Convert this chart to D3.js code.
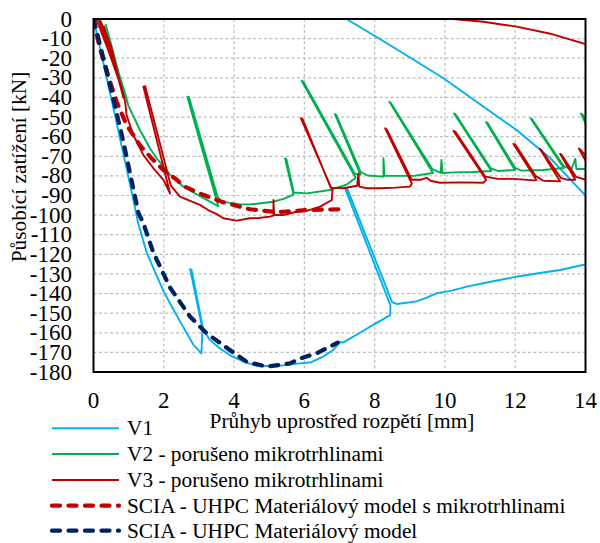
<!DOCTYPE html>
<html>
<head>
<meta charset="utf-8">
<script src="https://cdn.jsdelivr.net/npm/d3@7/dist/d3.min.js"></script>
<style>
  body { margin: 0; background: #fff; }
</style>
</head>
<body>
<div id="chart"></div>
<script>
// hodnoty: [průhyb mm, síla kN]
const xTicks = [0, 2, 4, 6, 8, 10, 12, 14];
const yTicks = [0, -10, -20, -30, -40, -50, -60, -70, -80, -90, -100, -110, -120, -130, -140, -150, -160, -170, -180];

const v1Data = [
  [0,0],[0.3,-24],[0.61,-49],[0.92,-74.5],[1.13,-92],[1.27,-104],[1.51,-119],[1.75,-129],[2.0,-139],
  [2.27,-148],[2.55,-157],[2.84,-166],[3.07,-170.5],[3.1,-158],[2.75,-127.5],[2.79,-128],[3.12,-158],
  [3.3,-163.5],[3.6,-168],[3.89,-171.5],[4.3,-175],[4.64,-176.8],[5.2,-177],[5.88,-175.6],[6.2,-175],
  [6.55,-172],[6.82,-168.8],[7.02,-164.7],[7.1,-165],[7.58,-160],[7.96,-156],[8.44,-151],
  [8.45,-146],[7.15,-86],[7.22,-86.5],[8.5,-144.5],[8.63,-145.3],[9.2,-144],[9.5,-142],[9.77,-139.8],
  [10.2,-138.5],[10.62,-136.5],[11.3,-134],[12.04,-131.4],[12.7,-129.5],[13.28,-128],[14.03,-125],[15.4,-121],
  [15.2,-114],[14.5,-100],[14.03,-90.6],[13,-71],[12.04,-56.6],[11,-43.5],[9.96,-30.2],[8.5,-14],[7.2,0],[6.9,3]
];

const v2Data = [
  [0.15,0],[0.5,-19],[0.9,-40],[0.55,-16],[0.35,-3],[0.55,-18],[0.9,-38],[0.99,-44],[1.32,-56.6],
  [1.61,-66],[1.8,-71],[2.18,-79.5],[2.56,-85.5],[2.94,-89.5],[3.3,-93],[3.55,-95.5],
  [2.67,-39.6],[2.72,-40],[3.52,-90],[3.62,-93],[3.79,-93.5],[4.17,-94.5],[4.45,-94.5],[4.64,-94.2],
  [5.12,-93.2],[5.45,-91.5],[5.69,-89.5],[5.45,-71],[5.49,-71.5],[5.7,-88.5],[6.07,-88.9],[6.73,-87.2],
  [7.2,-84.5],[7.46,-81],[5.92,-31.4],[5.97,-32],[7.44,-79],[7.6,-79.5],[6.87,-48.5],[6.91,-49],[7.6,-78],
  [7.8,-79.8],[8.25,-80.4],[8.25,-71],[8.28,-80],[8.7,-80],[9.11,-80],[9.66,-78.5],[8.42,-42.2],[8.46,-42.8],
  [9.64,-76.5],[9.88,-78.5],[9.9,-71.9],[9.93,-78.5],[10.26,-78.2],[10.8,-78],[11.32,-77.5],[10.26,-48.2],
  [10.3,-48.6],[11.3,-76],[11.5,-77.5],[11.99,-77],[11.17,-52.5],[11.21,-52.9],[12.0,-76],[12.18,-77.3],
  [12.8,-77],[13.38,-76],[12.44,-50.7],[12.48,-51.1],[13.38,-75],[13.6,-76.5],[13.71,-71.3],[13.74,-76.5],
  [14.1,-76.5],[14.6,-76],[13.87,-48.2],[13.91,-48.6],[14.6,-70]
];

const v3Data = [
  [0.08,0],[0.4,-15],[0.7,-30],[0.85,-40],[0.5,-14],[0.2,-1],[0.15,0],[0.45,-16],[0.75,-32],[0.88,-41],
  [0.55,-18],[0.3,-4],[0.5,-17],[0.8,-35],[0.9,-42],[0.94,-49],[1.13,-59],[1.42,-69.4],[1.7,-76],
  [1.99,-82],[2.18,-89],[1.42,-34.5],[1.47,-34.3],[2.2,-85],[2.46,-90.6],[2.75,-92.8],[3.03,-94.8],
  [3.32,-98],[3.51,-99.5],[3.69,-101.6],[4.07,-102.8],[4.45,-101.6],[4.7,-101.5],[5.02,-100.8],[5.12,-100.3],
  [5.12,-92.3],[5.14,-99.8],[5.4,-100],[5.78,-98.3],[6.07,-97.8],[6.45,-95.7],[6.78,-92.3],[6.8,-87.5],
  [5.9,-50.6],[5.95,-51],[6.75,-86],[7.11,-86.3],[7.5,-85],[7.54,-78.7],[7.56,-85.5],[7.78,-86.3],
  [8.15,-86.3],[8.6,-86],[9.0,-85.5],[9.06,-84],[8.3,-55.7],[8.35,-56.5],[9.06,-82],[9.3,-82],[9.48,-81],
  [9.59,-82.5],[9.86,-83.5],[10.5,-83.3],[11.09,-83.5],[11.17,-82],[10.24,-57],[10.3,-57.5],[11.15,-80.4],
  [11.5,-81.5],[11.95,-81.5],[12.56,-82.3],[12.6,-82],[11.95,-63.7],[12.0,-64],[12.58,-80],[12.8,-82.5],
  [13.28,-82.8],[12.7,-66.2],[12.74,-66.8],[13.3,-81],[13.5,-82],[13.71,-82],[13.28,-68.8],[13.32,-69.2],
  [13.73,-80.5],[14.03,-82],[14.3,-82],[13.81,-66],[13.85,-66.5],[14.4,-78],[16.5,-82],[15.5,-28],
  [14.03,-12.9],[13,-7.5],[12.04,-3.9],[11.09,-1.4],[10.23,0],[9.5,1]
];

const sciaMicroData = [
  [0,0],[0.18,-15],[0.33,-23.5],[0.47,-32],[0.66,-42.2],[0.94,-54],[1.32,-64.3],[1.61,-70.2],[1.99,-77],
  [2.37,-82],[2.56,-85.2],[3.03,-89],[3.51,-92.3],[3.69,-93.4],[4.17,-95.7],[4.45,-97],[5.12,-98.3],
  [5.4,-98.3],[6.07,-97.4],[7.05,-97]
];

const sciaData = [
  [0,0],[0.28,-20],[0.56,-40.4],[0.85,-62.6],[1.09,-83],[1.28,-99],[1.42,-104.2],[1.7,-119],[2.18,-137],
  [2.75,-151.8],[3.22,-160.3],[3.88,-168.8],[4.36,-174.8],[4.93,-177.3],[5.59,-175.6],[5.9,-173],
  [6.35,-170.5],[6.95,-165]
];

const seriesNames = [
  "V1",
  "V2 - porušeno mikrotrhlinami",
  "V3 - porušeno mikrotrhlinami",
  "SCIA - UHPC Materiálový model s mikrotrhlinami",
  "SCIA - UHPC Materiálový model"
];

const series = [
  {name: seriesNames[0], data: v1Data, color: "#00b0f0", width: 1.9, dash: null},
  {name: seriesNames[1], data: v2Data, color: "#00b050", width: 1.9, dash: null},
  {name: seriesNames[2], data: v3Data, color: "#c00000", width: 1.9, dash: null},
  {name: seriesNames[3], data: sciaMicroData, color: "#c00000", width: 4.2, dash: "8,8.5"},
  {name: seriesNames[4], data: sciaData, color: "#002060", width: 4.2, dash: "8,8.5"}
];

const serif = "'Liberation Serif', 'Times New Roman', serif";
const width = 600, height = 543;
const margin = {top: 19, right: 14.5, bottom: 171, left: 93.5};

const svg = d3.select("#chart").append("svg")
  .attr("width", width).attr("height", height)
  .attr("font-family", serif)
  .style("background", "white");

const x = d3.scaleLinear().domain([0, 14]).range([margin.left, width - margin.right]);
const y = d3.scaleLinear().domain([-180, 0]).range([height - margin.bottom, margin.top]);

// mřížka
svg.append("g").selectAll("line")
  .data(yTicks.filter(d => d !== 0 && d !== -180)).join("line")
  .attr("x1", x(0)).attr("x2", x(14))
  .attr("y1", d => y(d)).attr("y2", d => y(d))
  .attr("stroke", "#bdbdbd").attr("stroke-width", 1.2).attr("stroke-dasharray", "3,2.5");

svg.append("g").selectAll("line")
  .data(xTicks.filter(d => d !== 0 && d !== 14)).join("line")
  .attr("x1", d => x(d)).attr("x2", d => x(d))
  .attr("y1", y(0)).attr("y2", y(-180))
  .attr("stroke", "#bdbdbd").attr("stroke-width", 1.2).attr("stroke-dasharray", "3,2.5");

svg.append("clipPath").attr("id", "plotClip")
  .append("rect")
  .attr("x", x(0)).attr("y", y(0))
  .attr("width", x(14) - x(0)).attr("height", y(-180) - y(0));

const line = d3.line().x(d => x(d[0])).y(d => y(d[1]));

svg.append("g").attr("clip-path", "url(#plotClip)")
  .selectAll("path").data(series).join("path")
  .attr("fill", "none")
  .attr("stroke", d => d.color)
  .attr("stroke-width", d => d.width)
  .attr("stroke-dasharray", d => d.dash)
  .attr("stroke-linecap", d => d.dash ? "round" : "butt")
  .attr("stroke-linejoin", "round")
  .attr("d", d => line(d.data));

// rámeček
svg.append("rect")
  .attr("x", x(0)).attr("y", y(0))
  .attr("width", x(14) - x(0)).attr("height", y(-180) - y(0))
  .attr("fill", "none").attr("stroke", "#000").attr("stroke-width", 2);

// popisky os
svg.append("g").selectAll("text")
  .data(yTicks).join("text")
  .attr("x", 72).attr("y", d => y(d)).attr("dy", "0.33em")
  .attr("text-anchor", "end").attr("font-size", 23)
  .text(d => d);

svg.append("g").selectAll("text")
  .data(xTicks).join("text")
  .attr("x", d => x(d)).attr("y", 407.5)
  .attr("text-anchor", "middle").attr("font-size", 23)
  .text(d => d);

svg.append("text")
  .attr("x", 342).attr("y", 428)
  .attr("text-anchor", "middle").attr("font-size", 21.33)
  .text("Průhyb uprostřed rozpětí [mm]");

svg.append("text")
  .attr("transform", "translate(26,167) rotate(-90)")
  .attr("text-anchor", "middle").attr("font-size", 21.33)
  .text("Působící zatížení [kN]");

// legenda
const legendY = [428.3, 454, 480, 505.7, 530.7];
const legend = svg.append("g").selectAll("g")
  .data(series).join("g")
  .attr("transform", (d, i) => `translate(0,${legendY[i]})`);

legend.append("line")
  .attr("x1", 52).attr("x2", 119)
  .attr("stroke", d => d.color)
  .attr("stroke-width", d => d.dash ? 4.2 : 2)
  .attr("stroke-dasharray", d => d.dash)
  .attr("stroke-linecap", d => d.dash ? "round" : "butt");

legend.append("text")
  .attr("x", 127).attr("y", 7)
  .attr("font-size", 21.33)
  .text(d => d.name);
</script>
</body>
</html>
